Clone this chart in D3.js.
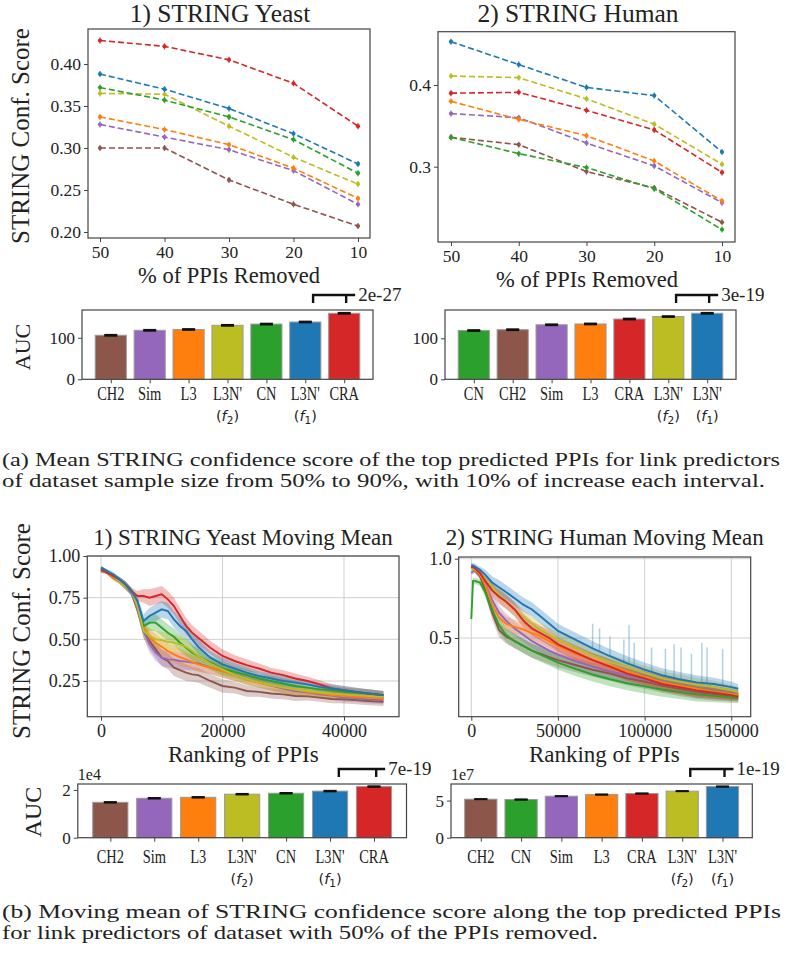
<!DOCTYPE html>
<html>
<head>
<meta charset="utf-8">
<script src="https://cdn.jsdelivr.net/npm/d3@7"></script>
<style>
  body { margin: 0; background: #fff; }
  text { font-family: "Liberation Serif", "Times New Roman", serif; fill: #222; }
</style>
</head>
<body>
<svg id="fig" width="786" height="954"></svg>
<script>
'use strict';

// ---- data ----
var methods = ["CH2", "Sim", "L3", "L3N'(f2)", "CN", "L3N'(f1)", "CRA"];
var methodColors = ["#8c564b", "#9467bd", "#ff7f0e", "#bcbd22", "#2ca02c", "#1f77b4", "#d62728"];

var pctRemoved = [50, 40, 30, 20, 10];
// rows follow the methods order
var yeastScore = [
  [0.300, 0.300, 0.262, 0.233, 0.207],
  [0.328, 0.313, 0.298, 0.273, 0.233],
  [0.337, 0.322, 0.304, 0.276, 0.240],
  [0.365, 0.364, 0.326, 0.289, 0.257],
  [0.372, 0.357, 0.337, 0.310, 0.270],
  [0.388, 0.370, 0.347, 0.317, 0.281],
  [0.428, 0.421, 0.405, 0.377, 0.326]
];
var humanScore = [
  [0.336, 0.327, 0.294, 0.274, 0.232],
  [0.365, 0.360, 0.329, 0.301, 0.256],
  [0.380, 0.358, 0.338, 0.307, 0.258],
  [0.411, 0.409, 0.383, 0.352, 0.303],
  [0.336, 0.316, 0.299, 0.273, 0.223],
  [0.453, 0.425, 0.397, 0.387, 0.318],
  [0.390, 0.391, 0.369, 0.345, 0.293]
];

var yeastTopOrder = ["CH2", "Sim", "L3", "L3N'(f2)", "CN", "L3N'(f1)", "CRA"];
var yeastTopAUC = [106, 118, 120, 130, 133, 138, 159];
var humanTopOrder = ["CN", "CH2", "Sim", "L3", "CRA", "L3N'(f2)", "L3N'(f1)"];
var humanTopAUC = [119, 121, 133, 135, 147, 153, 161];
var topAUCErr = [1.2, 1.2, 1.2, 1.2, 1.2, 1.2, 1.2];

var yeastMMOrder = ["CH2", "Sim", "L3", "L3N'(f2)", "CN", "L3N'(f1)", "CRA"];
var yeastMMAUC = [1.48, 1.65, 1.69, 1.82, 1.86, 1.95, 2.14];   // x 1e4
var humanMMOrder = ["CH2", "CN", "Sim", "L3", "CRA", "L3N'(f2)", "L3N'(f1)"];
var humanMMAUC = [5.19, 5.14, 5.59, 5.81, 5.95, 6.27, 6.89];   // x 1e7
var mmAUCErr = [0.015, 0.015, 0.015, 0.015, 0.015, 0.015, 0.015];

var pValues = ["2e-27", "3e-19", "7e-19", "1e-19"];

var yeastRank = [0, 1000, 2000, 3000, 4000, 5000, 6000, 7000, 8000, 9000, 10000, 11000, 12000, 13000, 14000, 15000,
  16000, 18000, 20000, 22000, 24000, 26000, 28000, 30000, 32000, 34000, 36000, 38000, 40000, 42000, 44000, 46500];
var yeastMM = [
  [0.91, 0.90, 0.87, 0.85, 0.82, 0.78, 0.68, 0.55, 0.49, 0.44, 0.39, 0.37, 0.33, 0.315, 0.30, 0.29, 0.285, 0.25, 0.22, 0.21, 0.19, 0.185, 0.175, 0.17, 0.16, 0.158, 0.15, 0.142, 0.14, 0.135, 0.13, 0.125],
  [0.92, 0.90, 0.88, 0.85, 0.82, 0.78, 0.68, 0.55, 0.47, 0.42, 0.39, 0.38, 0.378, 0.37, 0.366, 0.36, 0.355, 0.33, 0.31, 0.285, 0.262, 0.24, 0.222, 0.205, 0.19, 0.182, 0.17, 0.162, 0.15, 0.147, 0.14, 0.135],
  [0.92, 0.90, 0.87, 0.85, 0.82, 0.79, 0.70, 0.57, 0.51, 0.48, 0.455, 0.43, 0.41, 0.393, 0.38, 0.365, 0.35, 0.33, 0.31, 0.285, 0.262, 0.245, 0.225, 0.21, 0.197, 0.185, 0.176, 0.165, 0.16, 0.155, 0.15, 0.145],
  [0.92, 0.90, 0.88, 0.85, 0.82, 0.79, 0.70, 0.55, 0.52, 0.50, 0.495, 0.485, 0.48, 0.47, 0.455, 0.43, 0.40, 0.355, 0.32, 0.285, 0.262, 0.24, 0.225, 0.21, 0.20, 0.19, 0.18, 0.175, 0.17, 0.165, 0.16, 0.155],
  [0.93, 0.91, 0.88, 0.86, 0.83, 0.79, 0.71, 0.58, 0.60, 0.60, 0.57, 0.54, 0.515, 0.48, 0.45, 0.42, 0.40, 0.36, 0.325, 0.305, 0.285, 0.265, 0.25, 0.235, 0.22, 0.21, 0.20, 0.195, 0.185, 0.18, 0.175, 0.165],
  [0.93, 0.91, 0.89, 0.86, 0.83, 0.79, 0.73, 0.61, 0.64, 0.66, 0.68, 0.67, 0.62, 0.58, 0.55, 0.50, 0.455, 0.39, 0.35, 0.325, 0.30, 0.28, 0.265, 0.25, 0.24, 0.23, 0.215, 0.205, 0.195, 0.185, 0.175, 0.165],
  [0.92, 0.90, 0.88, 0.86, 0.83, 0.79, 0.76, 0.76, 0.75, 0.76, 0.77, 0.74, 0.70, 0.64, 0.58, 0.54, 0.51, 0.45, 0.40, 0.37, 0.345, 0.325, 0.30, 0.285, 0.265, 0.25, 0.23, 0.205, 0.195, 0.185, 0.175, 0.165]
];
var yeastSpread = [0.01, 0.01, 0.015, 0.015, 0.02, 0.02, 0.03, 0.04, 0.05, 0.05, 0.05, 0.05, 0.05, 0.05, 0.05, 0.045,
  0.045, 0.04, 0.04, 0.035, 0.035, 0.03, 0.03, 0.03, 0.03, 0.025, 0.025, 0.025, 0.025, 0.025, 0.025, 0.025];

var humanRank = [0, 1000, 2000, 5000, 8000, 12000, 16000, 20000, 25000, 30000, 35000, 40000, 45000, 50000, 60000,
  70000, 80000, 90000, 100000, 110000, 120000, 130000, 140000, 150000, 154000];
var humanMM = [
  [0.95, 0.94, 0.93, 0.89, 0.80, 0.66, 0.55, 0.51, 0.48, 0.45, 0.42, 0.40, 0.38, 0.36, 0.33, 0.30, 0.275, 0.245, 0.225, 0.20, 0.18, 0.16, 0.145, 0.135, 0.13],
  [0.91, 0.92, 0.93, 0.90, 0.84, 0.74, 0.66, 0.61, 0.56, 0.52, 0.48, 0.45, 0.42, 0.395, 0.355, 0.32, 0.29, 0.265, 0.24, 0.21, 0.19, 0.17, 0.155, 0.145, 0.14],
  [0.95, 0.945, 0.94, 0.90, 0.84, 0.71, 0.63, 0.59, 0.57, 0.555, 0.53, 0.51, 0.48, 0.45, 0.40, 0.36, 0.325, 0.29, 0.255, 0.22, 0.20, 0.18, 0.16, 0.145, 0.14],
  [0.94, 0.935, 0.93, 0.91, 0.87, 0.82, 0.77, 0.73, 0.68, 0.63, 0.59, 0.55, 0.52, 0.49, 0.44, 0.39, 0.35, 0.315, 0.28, 0.245, 0.225, 0.205, 0.19, 0.17, 0.16],
  [0.62, 0.86, 0.86, 0.85, 0.79, 0.68, 0.58, 0.52, 0.48, 0.45, 0.42, 0.395, 0.37, 0.345, 0.305, 0.27, 0.24, 0.215, 0.195, 0.175, 0.16, 0.145, 0.135, 0.125, 0.12],
  [0.96, 0.955, 0.95, 0.93, 0.90, 0.85, 0.82, 0.79, 0.75, 0.71, 0.68, 0.635, 0.59, 0.545, 0.49, 0.435, 0.385, 0.34, 0.30, 0.265, 0.24, 0.22, 0.21, 0.19, 0.18],
  [0.95, 0.945, 0.94, 0.91, 0.86, 0.80, 0.76, 0.73, 0.68, 0.61, 0.56, 0.53, 0.50, 0.46, 0.41, 0.36, 0.32, 0.275, 0.245, 0.21, 0.19, 0.17, 0.155, 0.14, 0.13]
];
var humanSpread = [0.01, 0.02, 0.02, 0.02, 0.03, 0.04, 0.045, 0.045, 0.045, 0.045, 0.045, 0.045, 0.045, 0.045, 0.045,
  0.045, 0.045, 0.045, 0.045, 0.045, 0.045, 0.045, 0.04, 0.035, 0.03];
// light blue spikes of the L3N'(f1) band in the human panel
var humanSpikeRank = [70000, 74000, 80000, 88000, 91000, 94000, 104000, 112000, 117000, 121000, 127000, 133000, 136000, 145000];
var humanSpikeLow = [0.435, 0.42, 0.385, 0.35, 0.335, 0.32, 0.285, 0.26, 0.25, 0.24, 0.23, 0.215, 0.215, 0.20];
var humanSpikeHigh = [0.59, 0.56, 0.51, 0.49, 0.58, 0.47, 0.44, 0.43, 0.46, 0.44, 0.40, 0.47, 0.44, 0.43];

var mmDrawOrder = [0, 1, 2, 4, 3, 6, 5];

// ---- drawing ----
var svg = d3.select("#fig");
svg.append("rect").attr("width", 786).attr("height", 954).attr("fill", "#fff");
var color = d3.scaleOrdinal().domain(methods).range(methodColors);
var SPINE = "#444";

function styleAxis(sel, size) {
  sel.attr("font-family", null).attr("font-size", null);
  sel.select(".domain").remove();
  sel.selectAll(".tick line").attr("stroke", SPINE).attr("stroke-width", 1);
  sel.selectAll(".tick text").attr("fill", "#222").style("font-size", size + "px");
}

function frame(g, b) {
  g.append("rect").attr("x", b[0]).attr("y", b[1]).attr("width", b[2] - b[0]).attr("height", b[3] - b[1])
    .attr("fill", "none").attr("stroke", SPINE).attr("stroke-width", 1.2);
}

function label(txt, x, y, size, rot) {
  var t = svg.append("text").attr("text-anchor", "middle").style("font-size", size + "px").text(txt);
  t.attr("transform", "translate(" + x + "," + y + ")" + (rot ? " rotate(-90)" : ""));
  return t;
}

function lineChart(series, o) {
  var g = svg.append("g");
  var x = d3.scaleLinear().domain([pctRemoved[0], pctRemoved[pctRemoved.length - 1]]).range(o.xr);
  var y = d3.scaleLinear().domain(o.yd).range(o.yr);
  var line = d3.line().x(function(d, i) { return x(pctRemoved[i]); }).y(function(d) { return y(d); });

  series.forEach(function(vals, k) {
    g.append("path").attr("d", line(vals)).attr("fill", "none")
      .attr("stroke", methodColors[k]).attr("stroke-width", 1.6).attr("stroke-dasharray", "6,3");
    var pts = g.selectAll(null).data(vals).enter();
    pts.append("line")
      .attr("x1", function(d, i) { return x(pctRemoved[i]); }).attr("x2", function(d, i) { return x(pctRemoved[i]); })
      .attr("y1", function(d) { return y(d) - 3; }).attr("y2", function(d) { return y(d) + 3; })
      .attr("stroke", methodColors[k]).attr("stroke-width", 1.2);
    pts.append("circle")
      .attr("cx", function(d, i) { return x(pctRemoved[i]); }).attr("cy", function(d) { return y(d); })
      .attr("r", 2.1).attr("fill", methodColors[k]);
  });

  g.append("g").attr("transform", "translate(0," + o.box[3] + ")")
    .call(d3.axisBottom(x).tickValues(pctRemoved).tickSize(4).tickPadding(4))
    .call(styleAxis, 17.5);
  g.append("g").attr("transform", "translate(" + o.box[0] + ",0)")
    .call(d3.axisLeft(y).tickValues(o.yticks).tickFormat(d3.format(o.fmt)).tickSize(4).tickPadding(3))
    .call(styleAxis, 17.5);
  frame(g, o.box);
}

function barChart(order, vals, errs, o) {
  var g = svg.append("g");
  var x = d3.scaleLinear().domain([-0.74, order.length - 0.26]).range([o.box[0], o.box[2]]);
  var y = d3.scaleLinear().domain([0, d3.max(vals) * 1.05]).range([o.box[3], o.box[1]]);

  g.selectAll(null).data(vals).enter().append("rect")
    .attr("x", function(d, i) { return x(i - 0.4); })
    .attr("width", function(d, i) { return x(i + 0.4) - x(i - 0.4); })
    .attr("y", function(d) { return y(d); })
    .attr("height", function(d) { return y(0) - y(d); })
    .attr("fill", function(d, i) { return color(order[i]); })
    .attr("stroke", "#999").attr("stroke-width", 1);

  var caps = g.selectAll(null).data(vals).enter().append("g");
  caps.append("line")
    .attr("x1", function(d, i) { return x(i); }).attr("x2", function(d, i) { return x(i); })
    .attr("y1", function(d, i) { return y(d - errs[i]); }).attr("y2", function(d, i) { return y(d + errs[i]); })
    .attr("stroke", "#111").attr("stroke-width", 1.5);
  [-1, 1].forEach(function(s) {
    caps.append("line")
      .attr("x1", function(d, i) { return x(i) - 6.5; }).attr("x2", function(d, i) { return x(i) + 6.5; })
      .attr("y1", function(d, i) { return y(d + s * errs[i]); }).attr("y2", function(d, i) { return y(d + s * errs[i]); })
      .attr("stroke", "#111").attr("stroke-width", 1.8);
  });

  g.append("g").attr("transform", "translate(0," + o.box[3] + ")")
    .call(d3.axisBottom(x).tickValues(d3.range(order.length)).tickFormat("").tickSize(4))
    .call(styleAxis, 15);
  g.append("g").attr("transform", "translate(" + o.box[0] + ",0)")
    .call(d3.axisLeft(y).tickValues(o.yticks).tickFormat(d3.format("d")).tickSize(4).tickPadding(3))
    .call(styleAxis, 17);

  order.forEach(function(name, i) {
    var m = name.match(/^(.*)\((f)(\d)\)$/);
    g.append("text").attr("text-anchor", "middle").style("font-size", "18.5px")
      .attr("transform", "translate(" + x(i) + "," + o.labelY + ") scale(0.78,1)")
      .text(m ? m[1] : name);
    if (m) {
      var t2 = g.append("text").attr("text-anchor", "middle")
        .attr("transform", "translate(" + x(i) + "," + (o.labelY + 21) + ")")
        .style("font-family", "DejaVu Sans").style("font-size", "14.5px");
      t2.append("tspan").text("(");
      t2.append("tspan").style("font-style", "italic").text(m[2]);
      t2.append("tspan").attr("dy", 3).style("font-size", "10.5px").text(m[3]);
      t2.append("tspan").attr("dy", -3).text(")");
    }
  });

  if (o.offset) {
    g.append("text").attr("x", o.box[0]).attr("y", o.box[1] - 4).style("font-size", "16px").text(o.offset);
  }
  frame(g, o.box);

  // significance bracket between the last two bars
  var n = order.length;
  var xa = x(n - 2 + 0.2), xb = x(n - 1 + 0.05), yb = o.box[1] - 15;
  g.append("path").attr("d", "M" + xa + "," + (yb + 8) + "V" + yb + "H" + (xb + 9) + "M" + xb + "," + yb + "V" + (yb + 8))
    .attr("fill", "none").attr("stroke", "#111").attr("stroke-width", 2.4);
  g.append("text").attr("x", xb + 12).attr("y", yb + 6).style("font-size", "19px").text(o.p);
}

var clipId = 0;
function mmChart(rank, series, spread, o) {
  var g = svg.append("g");
  var x = d3.scaleLinear().domain(o.xd).range(o.xr);
  var y = d3.scaleLinear().domain(o.yd).range(o.yr);
  var b = o.box;
  var id = "clip" + (clipId++);
  svg.append("clipPath").attr("id", id).append("rect")
    .attr("x", b[0]).attr("y", b[1]).attr("width", b[2] - b[0]).attr("height", b[3] - b[1]);

  var grid = g.append("g").attr("stroke", "#d0d0d0").attr("stroke-width", 1);
  o.xticks.forEach(function(t) { grid.append("line").attr("x1", x(t)).attr("x2", x(t)).attr("y1", b[1]).attr("y2", b[3]); });
  o.yticks.forEach(function(t) { grid.append("line").attr("y1", y(t)).attr("y2", y(t)).attr("x1", b[0]).attr("x2", b[2]); });

  var plot = g.append("g").attr("clip-path", "url(#" + id + ")");
  mmDrawOrder.forEach(function(k) {
    var vals = series[k];
    var area = d3.area()
      .x(function(d, i) { return x(rank[i]); })
      .y0(function(d, i) { return y(d - spread[i]); })
      .y1(function(d, i) { return y(d + spread[i]); });
    plot.append("path").attr("d", area(vals)).attr("fill", methodColors[k]).attr("fill-opacity", 0.3);
  });
  if (o.spikes) {
    var sp = o.spikes;
    plot.selectAll(null).data(sp.rank).enter().append("line")
      .attr("x1", function(d) { return x(d); }).attr("x2", function(d) { return x(d); })
      .attr("y1", function(d, i) { return y(sp.low[i]); }).attr("y2", function(d, i) { return y(sp.high[i]); })
      .attr("stroke", methodColors[5]).attr("stroke-opacity", 0.35).attr("stroke-width", 1.5);
  }
  mmDrawOrder.forEach(function(k) {
    var line = d3.line().x(function(d, i) { return x(rank[i]); }).y(function(d) { return y(d); });
    plot.append("path").attr("d", line(series[k])).attr("fill", "none")
      .attr("stroke", methodColors[k]).attr("stroke-width", 1.9);
  });

  g.append("g").attr("transform", "translate(0," + b[3] + ")")
    .call(d3.axisBottom(x).tickValues(o.xticks).tickFormat(d3.format("d")).tickSize(4).tickPadding(4))
    .call(styleAxis, 18);
  g.append("g").attr("transform", "translate(" + b[0] + ",0)")
    .call(d3.axisLeft(y).tickValues(o.yticks).tickFormat(d3.format(o.fmt)).tickSize(4).tickPadding(3))
    .call(styleAxis, 18);
  frame(g, b);
}

// (a) top row
lineChart(yeastScore, { box: [88, 29, 370, 238], xr: [100, 358], yd: [0.2, 0.4], yr: [232, 64],
  yticks: [0.20, 0.25, 0.30, 0.35, 0.40], fmt: ".2f" });
lineChart(humanScore, { box: [438, 31.7, 735, 242], xr: [451, 722], yd: [0.3, 0.4], yr: [166.7, 85],
  yticks: [0.3, 0.4], fmt: ".1f" });
label("1) STRING Yeast", 220, 22, 25.5);
label("2) STRING Human", 578, 22, 25.5);
label("% of PPIs Removed", 229, 283, 22.5);
label("% of PPIs Removed", 587, 287, 22.5);
label("STRING Conf. Score", 29, 136, 25, true);

barChart(yeastTopOrder, yeastTopAUC, topAUCErr, { box: [82, 310, 373, 379.3], yticks: [0, 100], labelY: 400, p: pValues[0] });
barChart(humanTopOrder, humanTopAUC, topAUCErr, { box: [445, 310, 736, 379.3], yticks: [0, 100], labelY: 400, p: pValues[1] });
label("AUC", 30, 347, 22, true);

// (b) bottom row
mmChart(yeastRank, yeastMM, yeastSpread, { box: [87.3, 556, 399, 716.7], xd: [0, 40000], xr: [101, 344],
  yd: [0.25, 1], yr: [681, 556], xticks: [0, 20000, 40000], yticks: [0.25, 0.5, 0.75, 1.0], fmt: ".2f" });
mmChart(humanRank, humanMM, humanSpread, { box: [458.7, 557, 750.7, 716.7], xd: [0, 150000], xr: [471.3, 731.3],
  yd: [0.5, 1], yr: [638, 558.7], xticks: [0, 50000, 100000, 150000], yticks: [0.5, 1.0], fmt: ".1f",
  spikes: { rank: humanSpikeRank, low: humanSpikeLow, high: humanSpikeHigh } });
label("1) STRING Yeast Moving Mean", 243, 545, 23);
label("2) STRING Human Moving Mean", 604.7, 545, 23);
label("Ranking of PPIs", 243.3, 762, 23);
label("Ranking of PPIs", 604.3, 762, 23);
label("STRING Conf. Score", 30, 631, 25, true);

barChart(yeastMMOrder, yeastMMAUC, mmAUCErr, { box: [77.8, 784, 406.5, 837.7], yticks: [0, 2], labelY: 863,
  offset: "1e4", p: pValues[2] });
barChart(humanMMOrder, humanMMAUC, mmAUCErr, { box: [451, 784, 752.3, 837.7], yticks: [0, 5], labelY: 863,
  offset: "1e7", p: pValues[3] });
label("AUC", 41, 812, 24, true);

// captions
var captions = [
  ["(a) Mean STRING confidence score of the top predicted PPIs for link predictors", 466, 778],
  ["of dataset sample size from 50% to 90%, with 10% of increase each interval.", 487, 763],
  ["(b) Moving mean of STRING confidence score along the top predicted PPIs", 918, 779],
  ["for link predictors of dataset with 50% of the PPIs removed.", 939, 596]
];
captions.forEach(function(c) {
  svg.append("text").attr("x", 2).attr("y", c[1]).style("font-size", "18.5px")
    .attr("textLength", c[2]).attr("lengthAdjust", "spacingAndGlyphs").text(c[0]);
});
</script>
</body>
</html>
